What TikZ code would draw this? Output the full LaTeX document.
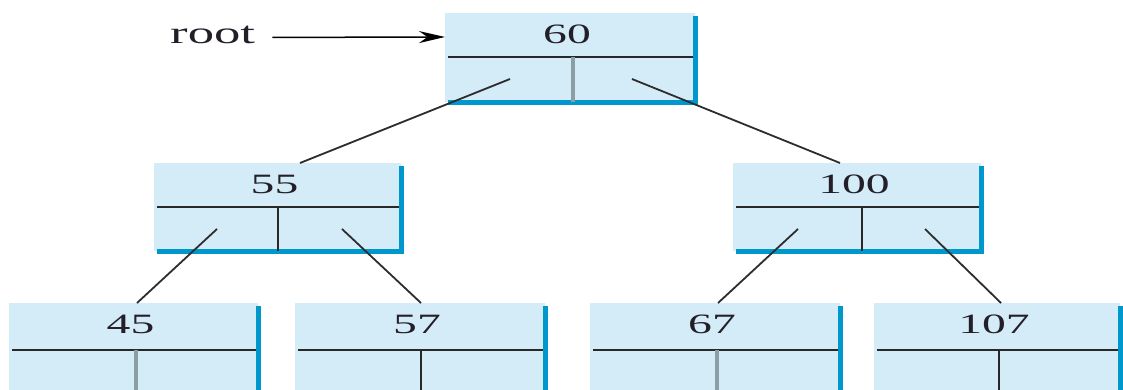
\documentclass[tikz,border=0pt]{standalone}
\usepackage{fontspec}
\setmainfont{Liberation Serif}
\usepackage{graphicx}
\usetikzlibrary{arrows.meta,calc}
\definecolor{boxfill}{RGB}{212,236,248}
\definecolor{boxedge}{RGB}{0,152,204}
\definecolor{divdark}{RGB}{40,40,40}
\definecolor{divgray}{RGB}{140,158,163}
\definecolor{linkcol}{RGB}{45,45,45}
\definecolor{textcol}{RGB}{35,30,40}
\tikzset{
  boxnode/.style={draw=none, fill=boxfill, rectangle, inner sep=0pt, outer sep=0pt, anchor=north west},
  shadowedge/.style={draw=boxedge, line width=5pt},
  hdiv/.style={draw=divdark, line width=2pt},
  vdark/.style={draw=divdark, line width=2.5pt},
  vgray/.style={draw=divgray, line width=4.5pt},
  keylbl/.style={inner sep=0pt, anchor=base, text=textcol, font=\fontsize{28}{30}\selectfont},
  rootlbl/.style={inner sep=0pt, anchor=base west, text=textcol, font=\fontsize{31}{34}\selectfont},
  link/.style={draw=linkcol, line width=1.8pt},
  rootarrow/.style={draw=black, line width=1.5pt, -{Stealth[length=26pt,width=12pt]}}
}
% #1 name, #2 x1, #3 y1, #4 x2, #5 y2, #6 divider y, #7 vertical x, #8 vertical style, #9 key
\newcommand{\TreeBox}[9]{%
  \node[boxnode, minimum width=#4pt-#2pt, minimum height=#5pt-#3pt] (#1) at (#2,#3) {};
  \draw[shadowedge] (#4,#3+3) -- (#4,#5) -- (#2+3,#5);
  \draw[hdiv] (#2+3,#6) -- (#4-2,#6);
  \draw[#8] (#7,#6) -- (#7,#5);
  \node[keylbl] (#1t) at ($(#1.north)+(-3,30)$) {\scalebox{1.7}[1]{#9}};
}
\begin{document}
\begin{tikzpicture}[x=1pt,y=-1pt]
\clip (0,0) rectangle (1123,389);
\fill[white] (0,0) rectangle (1123,389);

\TreeBox{n60}{445}{13}{695}{102}{57}{573}{vgray}{60}
\TreeBox{n55}{154}{163}{401}{251}{207}{278}{vdark}{55}
\TreeBox{n100}{733}{163}{981}{251}{207}{862}{vdark}{100}
\TreeBox{n45}{9}{303}{258}{420}{350}{136}{vgray}{45}
\TreeBox{n57}{295}{303}{545}{420}{350}{421}{vdark}{57}
\TreeBox{n67}{590}{303}{840}{420}{350}{717}{vgray}{67}
\TreeBox{n107}{874}{303}{1120}{420}{350}{999}{vdark}{107}

% pointer starts
\coordinate (p60l) at (510,79);
\coordinate (p60r) at (632,79);
\coordinate (p55l) at (217,229);
\coordinate (p55r) at (342,229);
\coordinate (p100l) at (798,229);
\coordinate (p100r) at (925,229);
% entry points on children
\coordinate (e55) at (300,163);
\coordinate (e100) at (840,163);
\coordinate (e45) at (137,303);
\coordinate (e57) at (421,303);
\coordinate (e67) at (718,303);
\coordinate (e107) at (1001,303);

\draw[link] (p60l) -- (e55);
\draw[link] (p60r) -- (e100);
\draw[link] (p55l) -- (e45);
\draw[link] (p55r) -- (e57);
\draw[link] (p100l) -- (e67);
\draw[link] (p100r) -- (e107);

\node[rootlbl] (rootl) at (170,43) {\scalebox{1.7}[1]{root}};
\draw[rootarrow] ([xshift=17pt,yshift=-3pt]rootl.east) -- ([yshift=20.5pt]n60.west);
\end{tikzpicture}
\end{document}
